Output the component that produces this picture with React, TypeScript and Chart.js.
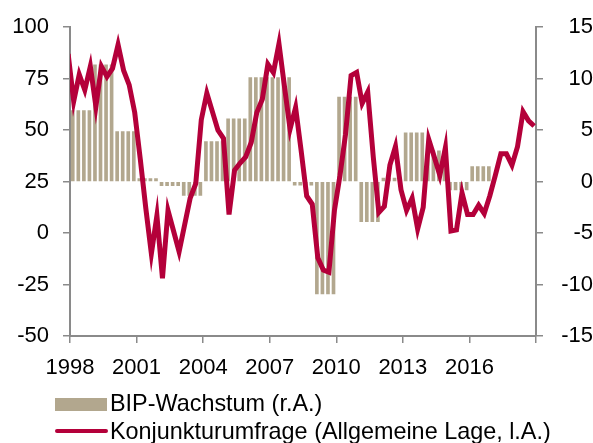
import React, { useEffect, useRef } from "react";
import { Chart, registerables } from "chart.js";

Chart.register(...registerables);

// Annual GDP growth (right axis), shown for each quarter 1998..2016
const bipYears = [1998, 1999, 2000, 2001, 2002, 2003, 2004, 2005, 2006, 2007, 2008, 2009, 2010, 2011, 2012, 2013, 2014, 2015, 2016];
const bipValues = [6.9, 11.35, 4.85, 0.3, -0.4, -1.35, 3.9, 6.1, 10.1, 10.1, -0.35, -10.9, 8.2, -3.9, 0.35, 4.75, 3.0, -0.8, 1.45];

// Quarterly survey (left axis), first point Dec 1997, then Mar/Jun/Sep/Dec
const surveyStartYear = 1997;
const surveyStartMonth = 12;
const surveyValues = [
  87, 64, 77, 69.5, 81, 61.5, 81, 76, 80, 91.5, 79, 72, 58.5, 36, 12, -10, 8.5, -22, 11, 1,
  -9, 4, 17, 24, 55, 68, 59, 50, 46, 9, 30.5, 34, 37, 44, 58.5, 65, 82, 78, 92, 71,
  50.5, 61, 40, 18, 14, -12, -18, -19, 11, 28, 48, 76.5, 78, 63, 68.5, 37, 10, 13, 33, 42,
  21, 11, 17, 2, 12.5, 45.5, 37, 28, 41.5, 1, 1.5, 19.5, 9, 9, 13.5, 9.5, 18, 28, 38.5, 38.5,
  33, 42, 59, 54.5, 52,
];

const xMin = 1998;
const xMax = 2019;
const xStep = 3;
const leftTicks = { min: -50, max: 100, step: 25 };
const rightTicks = { min: -15, max: 15, step: 5 };

const labelBar = "BIP-Wachstum (r.A.)";
const labelLine = "Konjunkturumfrage (Allgemeine Lage, l.A.)";

const BAR_COLOR = "#b2a78e";
const LINE_COLOR = "#b4003a";
const AXIS_COLOR = "#8a8a8a";
const FONT = "'Liberation Sans', Arial, sans-serif";

export default function App() {
  const ref = useRef<HTMLCanvasElement | null>(null);

  useEffect(() => {
    document.body.style.margin = "0";
    const barData: { x: number; y: number }[] = [];
    bipYears.forEach((yr, i) => {
      for (let q = 0; q < 4; q++) {
        barData.push({ x: yr + (q + 0.5) / 4, y: bipValues[i] });
      }
    });
    const lineData = surveyValues.map((v, k) => ({
      x: surveyStartYear + (surveyStartMonth - 1) / 12 + k * 0.25,
      y: v,
    }));

    const tickFont = { family: FONT, size: 22 };
    const chart = new Chart(ref.current as HTMLCanvasElement, {
      type: "bar",
      data: {
        datasets: [
          {
            type: "line",
            label: labelLine,
            data: lineData,
            yAxisID: "y",
            borderColor: LINE_COLOR,
            backgroundColor: LINE_COLOR,
            borderWidth: 5,
            pointRadius: 0,
            tension: 0,
            order: 0,
            clip: { left: 0, right: 0, top: 10, bottom: 10 },
          } as any,
          {
            type: "bar",
            label: labelBar,
            data: barData,
            yAxisID: "y1",
            backgroundColor: BAR_COLOR,
            borderWidth: 0,
            barThickness: 3,
            order: 1,
          } as any,
        ],
      },
      options: {
        animation: false,
        responsive: false,
        maintainAspectRatio: false,
        layout: { padding: { top: 21, left: 0, right: 0, bottom: 67 } },
        plugins: { legend: { display: false }, tooltip: { enabled: false } },
        scales: {
          x: {
            type: "linear",
            min: xMin,
            max: xMax,
            offset: false,
            grid: { offset: false, drawOnChartArea: false, drawTicks: true, tickLength: 7, color: AXIS_COLOR, lineWidth: 1.5 },
            border: { display: true, color: AXIS_COLOR, width: 2 },
            ticks: {
              stepSize: xStep,
              autoSkip: false,
              maxRotation: 0,
              padding: 12,
              color: "#000",
              font: tickFont,
              callback: (v: any) => (Number(v) === xMax ? "" : String(v)),
            },
            afterFit: (s: any) => {
              s.height = 40;
            },
          },
          y: {
            type: "linear",
            position: "left",
            min: leftTicks.min,
            max: leftTicks.max,
            grid: { drawOnChartArea: false, drawTicks: true, tickLength: 7, color: AXIS_COLOR, lineWidth: 1.5 },
            border: { display: true, color: AXIS_COLOR, width: 2 },
            ticks: { stepSize: leftTicks.step, padding: 14, color: "#000", font: tickFont },
            afterFit: (s: any) => {
              s.width = 70;
            },
          },
          y1: {
            type: "linear",
            position: "right",
            min: rightTicks.min,
            max: rightTicks.max,
            grid: { drawOnChartArea: false, drawTicks: true, tickLength: 7, color: AXIS_COLOR, lineWidth: 1.5 },
            border: { display: true, color: AXIS_COLOR, width: 2 },
            ticks: { stepSize: rightTicks.step, padding: 5, crossAlign: "far", color: "#000", font: tickFont },
            afterFit: (s: any) => {
              s.width = 57;
            },
          },
        },
      },
    });
    return () => chart.destroy();
  }, []);

  const textStyle: React.CSSProperties = {
    position: "absolute",
    left: 110,
    fontFamily: FONT,
    fontSize: 23.4,
    lineHeight: "23.4px",
    color: "#000",
    whiteSpace: "nowrap",
  };

  return (
    <div style={{ position: "relative", width: 593, height: 443, overflow: "hidden", background: "#fff" }}>
      <canvas ref={ref} width={593} height={443} style={{ position: "absolute", left: 0, top: 0, width: 593, height: 443 }} />
      <div style={{ position: "absolute", left: 55, top: 398, width: 52, height: 12.5, background: BAR_COLOR }} />
      <div style={{ ...textStyle, top: 391.5 }}>{labelBar}</div>
      <div style={{ position: "absolute", left: 55, top: 429.3, width: 53, height: 4, borderRadius: 2, background: LINE_COLOR }} />
      <div style={{ ...textStyle, top: 420 }}>{labelLine}</div>
    </div>
  );
}
